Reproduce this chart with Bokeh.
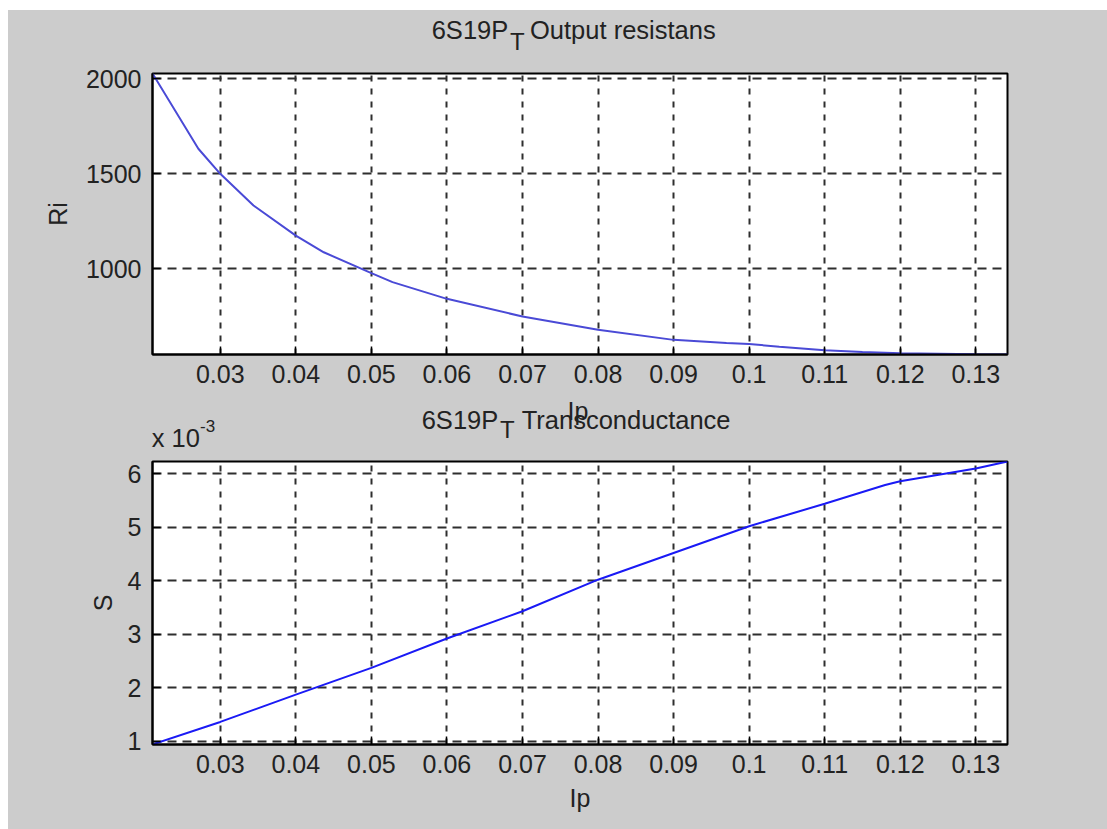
from bokeh.plotting import figure
from bokeh.models import Range1d, FixedTicker, Spacer, Div
from bokeh.layouts import column, row
from bokeh.embed import file_html
from bokeh.resources import INLINE

# ---------------- data ----------------
ip_ri = [0.02103, 0.0271, 0.0300, 0.0344, 0.0400, 0.0437, 0.0500, 0.0528, 0.0600,
         0.0700, 0.0800, 0.0900, 0.0970, 0.1000, 0.1040, 0.1100, 0.1150, 0.1200,
         0.1300, 0.1342]
ri_values = [2028, 1632, 1500, 1333, 1175, 1087, 977, 930, 842,
             749, 679, 626, 610, 604, 590, 572, 562, 556,
             550, 549]

ip_s = [0.02103, 0.03, 0.04, 0.05, 0.06, 0.07, 0.08, 0.09, 0.10, 0.11, 0.118, 0.12,
        0.13, 0.1342]
s_values = [0.94, 1.36, 1.87, 2.37, 2.92, 3.43, 4.02, 4.52, 5.02, 5.44, 5.79, 5.86,
            6.10, 6.23]  # x 10^-3

x_ticks = [0.03, 0.04, 0.05, 0.06, 0.07, 0.08, 0.09, 0.10, 0.11, 0.12, 0.13]
x_tick_labels = ["0.03", "0.04", "0.05", "0.06", "0.07", "0.08", "0.09", "0.1",
                 "0.11", "0.12", "0.13"]
ri_ticks = [1000, 1500, 2000]
ri_tick_labels = ["1000", "1500", "2000"]
s_ticks = [1, 2, 3, 4, 5, 6]
s_tick_labels = ["1", "2", "3", "4", "5", "6"]

FONT = "Liberation Sans"
BG = "#cccccc"
TXT = "#222222"
GRID = "#2e2e2e"
W = 1099


def make_fig(height_top, frame_h, height_bottom, x_range, y_range, yt, ytl):
    p = figure(frame_width=855, frame_height=frame_h,
               min_border_left=144, min_border_right=100,
               min_border_top=height_top, min_border_bottom=height_bottom,
               x_range=Range1d(*x_range), y_range=Range1d(*y_range),
               output_backend="svg", toolbar_location=None,
               background_fill_color="white", border_fill_color=BG,
               outline_line_color="black", outline_line_width=2)
    for ax in (p.xaxis[0], p.yaxis[0]):
        ax.major_label_text_font = FONT
        ax.major_label_text_font_size = "25px"
        ax.major_label_text_color = TXT
        ax.major_tick_in = 8
        ax.major_tick_out = 0
        ax.minor_tick_line_color = None
        ax.major_tick_line_color = "black"
        ax.major_tick_line_width = 1.5
        ax.axis_line_color = "black"
        ax.axis_line_width = 2
        ax.major_label_standoff = 10
        ax.axis_label_text_font = FONT
        ax.axis_label_text_font_size = "25px"
        ax.axis_label_text_font_style = "normal"
        ax.axis_label_text_color = TXT
    p.xaxis[0].ticker = FixedTicker(ticks=x_ticks)
    p.xaxis[0].major_label_overrides = dict(zip(x_ticks, x_tick_labels))
    p.yaxis[0].ticker = FixedTicker(ticks=yt)
    p.yaxis[0].major_label_overrides = dict(zip(yt, ytl))
    p.yaxis[0].major_label_standoff = 11

    p.xgrid.ticker = FixedTicker(ticks=x_ticks)
    p.ygrid.ticker = FixedTicker(ticks=yt)
    p.xgrid.grid_line_color = GRID
    p.xgrid.grid_line_width = 2
    p.xgrid.grid_line_dash = "6 7"
    p.ygrid.grid_line_color = GRID
    p.ygrid.grid_line_width = 2
    p.ygrid.grid_line_dash = "9 6"
    return p


def span(text, left, top, size):
    return (f'<span style="position:absolute;left:{left}px;top:{top}px;'
            f'font-family:\'{FONT}\';font-size:{size}px;line-height:1;'
            f'white-space:nowrap;color:{TXT};">{text}</span>')


def text_band(height, spans):
    html = (f'<div style="position:relative;width:{W}px;height:{height}px;'
            f'background:{BG};margin:0;padding:0;overflow:visible;">'
            + "".join(spans) + '</div>')
    return Div(text=html, width=W, height=height,
               styles={"background-color": BG, "margin": "0", "padding": "0"})


# ---------------- title band of upper plot (page y 10..60) ----------------
div1 = text_band(50, [
    span("6S19P", 423.7, 8.4, 25.5),
    span("T", 502, 19.9, 24),
    span("Output resistans", 522, 8.4, 25.5),
])

# ---------------- upper plot (page y 60..398) ----------------
p1 = make_fig(13, 281, 44, (0.02103, 0.1342), (549, 2028), ri_ticks, ri_tick_labels)
p1.yaxis[0].axis_label = "Ri"
p1.yaxis[0].axis_label_standoff = 11
p1.line(ip_ri, ri_values, line_color="#4a4ad6", line_width=2)

# ---------------- band between plots (page y 398..452) ----------------
div2 = text_band(54, [
    span("Ip", 559.6, 0.7, 25),
    span("6S19P", 413.7, 10.4, 25.5),
    span("T", 492, 19.9, 24),
    span("Transconductance", 513.7, 10.4, 25.5),
    span("x 10", 143.7, 28.4, 25.5),
    span("-3", 192, 19.6, 17),
])

# ---------------- lower plot (page y 452..829) ----------------
p2 = make_fig(9, 283, 85, (0.02103, 0.1342), (0.938, 6.23), s_ticks, s_tick_labels)
p2.yaxis[0].axis_label = "S"
p2.yaxis[0].axis_label_standoff = 8
p2.xaxis[0].axis_label = "Ip"
p2.xaxis[0].axis_label_standoff = 8
p2.line(ip_s, s_values, line_color="#1a1af5", line_width=2)

inner = column(div1, p1, div2, p2, spacing=0, styles={"background-color": BG})
layout = column(Spacer(width=1107, height=10),
                row(Spacer(width=8, height=819), inner, spacing=0),
                spacing=0)

open("out.html", "w").write(file_html(layout, INLINE))
